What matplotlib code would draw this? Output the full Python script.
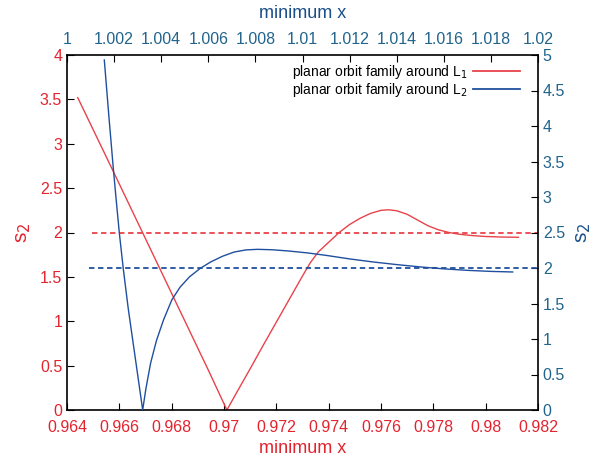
import numpy as np
import matplotlib
matplotlib.use("Agg")
import matplotlib.pyplot as plt

plt.rcParams["font.family"] = ["Liberation Sans", "DejaVu Sans"]

# L1 family: minimum x (bottom axis) vs s2 (left axis)
l1_x = [0.96441, 0.96575, 0.96700, 0.96820, 0.96940, 0.97011,
        0.9705, 0.9710, 0.9715, 0.9720, 0.9725, 0.9730, 0.9733, 0.9736,
        0.9740, 0.9744, 0.9748, 0.9752, 0.9756, 0.9760, 0.9763, 0.9766,
        0.9770, 0.9774, 0.9778, 0.9782, 0.9786, 0.9790, 0.9795, 0.9800,
        0.9806, 0.98125]
l1_s2 = [3.52, 2.70, 1.93, 1.19, 0.45, 0.0,
         0.205, 0.465, 0.73, 0.99, 1.25, 1.51, 1.66, 1.78,
         1.89, 2.00, 2.09, 2.16, 2.215, 2.25, 2.256, 2.245,
         2.205, 2.14, 2.075, 2.03, 2.0, 1.98, 1.965, 1.955,
         1.949, 1.946]

# L2 family: minimum x (top axis) vs s2 (right axis)
l2_x = [1.001584, 1.00178, 1.001966, 1.00210, 1.002221, 1.002391,
        1.00260, 1.00290, 1.003214,
        1.00335, 1.00355, 1.00380, 1.00410, 1.00445, 1.00480, 1.00520,
        1.00565, 1.00610, 1.00660, 1.00710, 1.00760, 1.00810, 1.00870,
        1.00940, 1.01020, 1.01100, 1.01200, 1.01300, 1.01400, 1.01500,
        1.01600, 1.01700, 1.01800, 1.018926]
l2_s2 = [4.93, 4.13, 3.404, 2.92, 2.497, 1.986,
         1.43, 0.73, 0.0,
         0.30, 0.66, 0.98, 1.27, 1.55, 1.73, 1.875,
         1.993, 2.085, 2.165, 2.225, 2.255, 2.263, 2.257,
         2.24, 2.213, 2.178, 2.128, 2.085, 2.048, 2.015,
         1.988, 1.967, 1.952, 1.944]

# reference levels (dashed)
l1_ref_x = [0.96494, 0.982]
l1_ref = 2.0
l2_ref_x = [1.000934, 1.02]
l2_ref = 2.0

RED = "#e8434b"
RED_TXT = "#e3242f"
BLUE = "#1f4f9e"
BLUE_TXT = "#22648c"

fig = plt.figure(figsize=(5.98, 4.57), dpi=100)
pos = [67 / 598, 1 - 410 / 457, (538 - 67) / 598, (410 - 55) / 457]
ax = fig.add_axes(pos)
ax2 = fig.add_axes(pos, facecolor="none")

ax.plot(l1_x, l1_s2, color=RED, lw=1.0)
ax.plot(l1_ref_x, [l1_ref, l1_ref], "--", color=RED, lw=1.3, dashes=(3, 2))
ax.set_xlim(0.964, 0.982)
ax.set_ylim(0, 4)
ax.set_xticks(np.arange(0.964, 0.9821, 0.002))
ax.set_xticklabels(["0.964", "0.966", "0.968", "0.97", "0.972", "0.974",
                    "0.976", "0.978", "0.98", "0.982"])
ax.set_yticks(np.arange(0, 4.01, 0.5))
ax.set_yticklabels(["0", "0.5", "1", "1.5", "2", "2.5", "3", "3.5", "4"])
ax.tick_params(direction="in", length=5, colors="black", labelsize=11.5)
ax.tick_params(labelcolor=RED_TXT)
ax.tick_params(axis="x", pad=7)
ax.set_xlabel("minimum x", color=RED_TXT, fontsize=13, labelpad=4)
ax.set_ylabel("s$_2$", color=RED_TXT, fontsize=15, labelpad=5)

ax2.plot(l2_x, l2_s2, color=BLUE, lw=1.0)
ax2.plot(l2_ref_x, [l2_ref, l2_ref], "--", color=BLUE, lw=1.3, dashes=(3, 2))
ax2.set_xlim(1.0, 1.02)
ax2.set_ylim(0, 5)
ax2.xaxis.tick_top()
ax2.xaxis.set_label_position("top")
ax2.yaxis.tick_right()
ax2.yaxis.set_label_position("right")
ax2.set_xticks(np.arange(1.0, 1.0201, 0.002))
ax2.set_xticklabels(["1", "1.002", "1.004", "1.006", "1.008", "1.01",
                     "1.012", "1.014", "1.016", "1.018", "1.02"])
ax2.set_yticks(np.arange(0, 5.01, 0.5))
ax2.set_yticklabels(["0", "0.5", "1", "1.5", "2", "2.5", "3", "3.5", "4",
                     "4.5", "5"])
ax2.tick_params(direction="in", length=5, colors="black", labelsize=11.5)
ax2.tick_params(labelcolor=BLUE_TXT)
ax2.tick_params(axis="x", pad=6)
ax2.set_xlabel("minimum x", color="#1a4f8a", fontsize=13, labelpad=10)
ax2.set_ylabel("s$_2$", color="#1a4f8a", fontsize=15, labelpad=6)
for s in ax2.spines.values():
    s.set_visible(False)
for s in ax.spines.values():
    s.set_linewidth(1.2)

h1, = ax.plot([], [], color=RED, lw=1.3)
h2, = ax.plot([], [], color=BLUE, lw=1.3)
leg = ax2.legend([h1, h2],
                 ["planar orbit family around L$_1$",
                  "planar orbit family around L$_2$"],
                 loc="upper right", frameon=False, fontsize=10,
                 markerfirst=False, handlelength=3.4, handletextpad=0.4,
                 labelspacing=0.0, borderaxespad=0.2,
                 bbox_to_anchor=(0.98, 1.0))

fig.savefig("out.png", dpi=100)
